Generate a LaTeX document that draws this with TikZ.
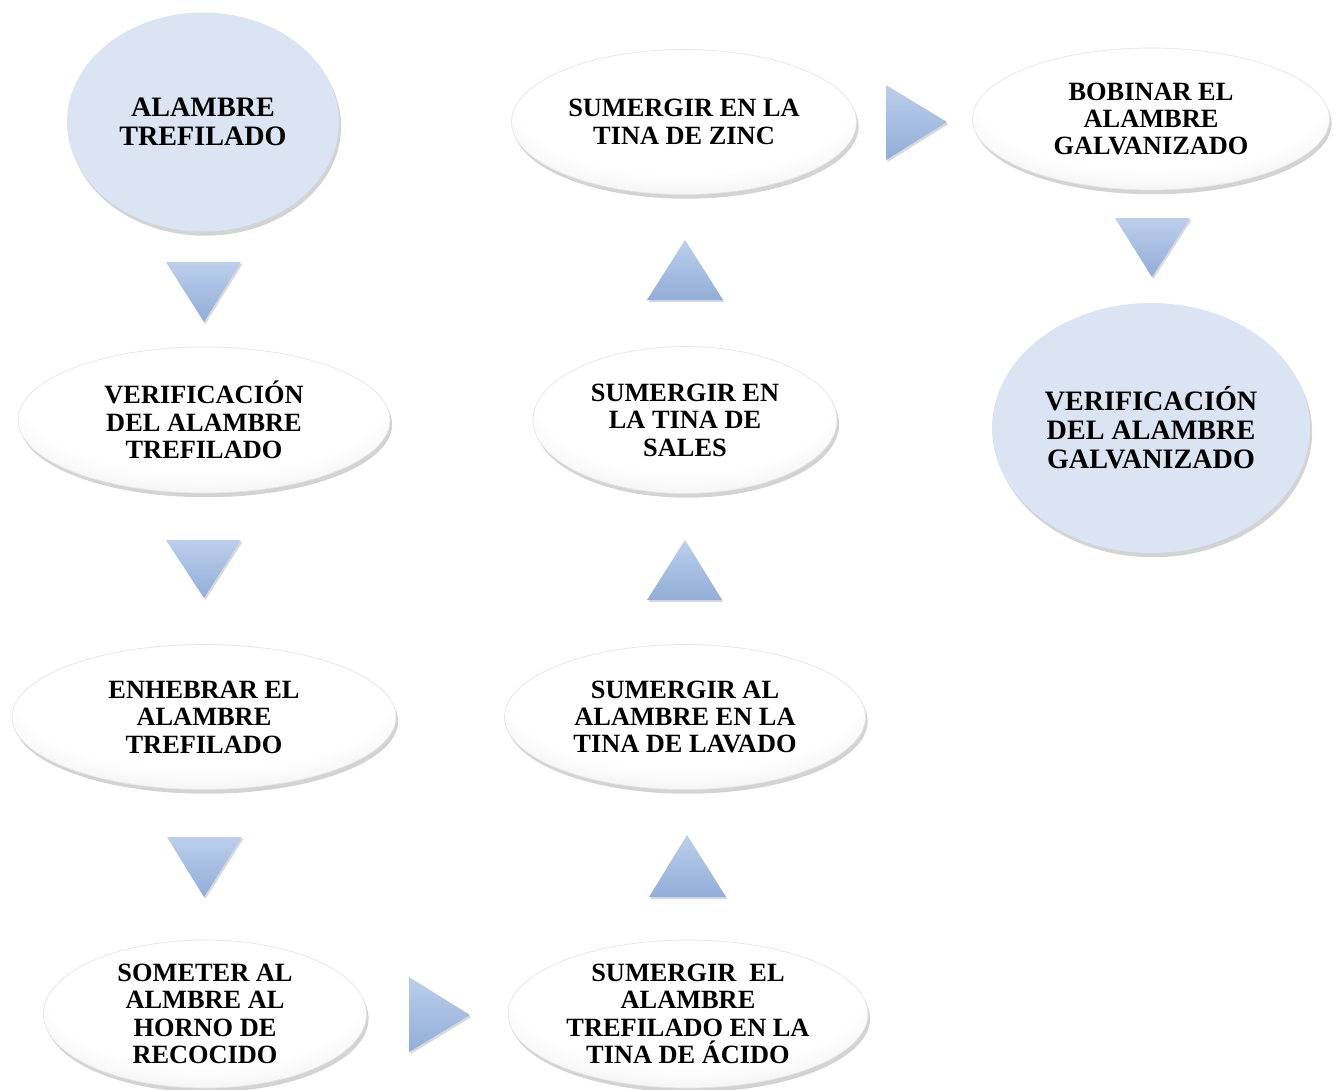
\documentclass[tikz,border=0pt]{standalone}
\usepackage{fontspec}
\setmainfont{Liberation Serif}
\usetikzlibrary{shapes.geometric,shadows}

\definecolor{azulcirculo}{RGB}{219,228,243}
\definecolor{flechaclara}{RGB}{188,207,236}
\definecolor{flechaoscura}{RGB}{146,173,216}
\pgfdeclareradialshading{ovalo}{\pgfpoint{0bp}{10bp}}{color(0bp)=(white); color(24bp)=(white); color(38bp)=(black!9); color(48bp)=(black!22); color(60bp)=(black!34)}

\tikzset{
  paso/.style={ellipse, shading=ovalo, draw=black!10, line width=.4pt, align=center, inner sep=0pt,
    font=\bfseries\fontsize{15}{15.6}\selectfont,
    drop shadow={shadow xshift=1.2pt, shadow yshift=-2.4pt, opacity=.35}},
  circulo/.style={ellipse, fill=azulcirculo, align=center, inner sep=0pt,
    font=\bfseries\fontsize{16}{16.5}\selectfont,
    drop shadow={shadow xshift=1.2pt, shadow yshift=-2.4pt, opacity=.35}},
  flecha/.style={top color=flechaclara, bottom color=flechaoscura,
    drop shadow={shadow xshift=.8pt, shadow yshift=-1.2pt, opacity=.3}}
}

\begin{document}
\begin{tikzpicture}[x=0.2mm, y=-0.2mm]
        \useasboundingbox (0,0) rectangle (1342,1089);

        % primera columna
        \node[circulo, minimum width=5.44cm, minimum height=4.38cm] (alambre) at (203,122) {ALAMBRE\\TREFILADO};
        \node[paso, minimum width=7.44cm, minimum height=2.92cm] (verif1) at (204,420) {VERIFICACIÓN\\DEL ALAMBRE\\TREFILADO};
        \node[paso, minimum width=7.68cm, minimum height=2.9cm] (enhebrar) at (204,717) {ENHEBRAR EL\\ALAMBRE\\TREFILADO};
        \node[paso, minimum width=6.46cm, minimum height=2.96cm] (recocido) at (205,1014) {SOMETER AL\\ALMBRE AL\\HORNO DE\\RECOCIDO};

        % segunda columna
        \node[paso, minimum width=7.2cm, minimum height=2.96cm] (acido) at (688,1014) {SUMERGIR\ \ EL\\ALAMBRE\\TREFILADO EN LA\\TINA DE ÁCIDO};
        \node[paso, minimum width=7.22cm, minimum height=2.9cm] (lavado) at (685,717) {SUMERGIR AL\\ALAMBRE EN LA\\TINA DE LAVADO};
        \node[paso, minimum width=6.08cm, minimum height=2.94cm] (sales) at (685,420) {SUMERGIR EN\\LA TINA DE\\SALES};
        \node[paso, minimum width=6.9cm, minimum height=2.9cm] (zinc) at (684,122) {SUMERGIR EN LA\\TINA DE ZINC};

        % tercera columna
        \node[paso, minimum width=7.14cm, minimum height=2.84cm] (bobinar) at (1151,119) {BOBINAR EL\\ALAMBRE\\GALVANIZADO};
        \node[circulo, minimum width=6.36cm, minimum height=5cm] (verif2) at (1151,428) {VERIFICACIÓN\\DEL ALAMBRE\\GALVANIZADO};

        % flechas
        \path[flecha] (166,262) -- (241,262) -- (204,322) -- cycle;
        \path[flecha] (166,540) -- (241,540) -- (204,598) -- cycle;
        \path[flecha] (167,837) -- (242,837) -- (204,897) -- cycle;
        \path[flecha] (409,977) -- (470,1015) -- (409,1052) -- cycle;
        \path[flecha] (649,897) -- (687,835) -- (726,897) -- cycle;
        \path[flecha] (647,600) -- (685,540) -- (722,600) -- cycle;
        \path[flecha] (647,300) -- (685,240) -- (723,300) -- cycle;
        \path[flecha] (886,85) -- (947,122) -- (886,160) -- cycle;
        \path[flecha] (1115,218) -- (1190,218) -- (1152,277) -- cycle;
    \end{tikzpicture}
\end{document}
